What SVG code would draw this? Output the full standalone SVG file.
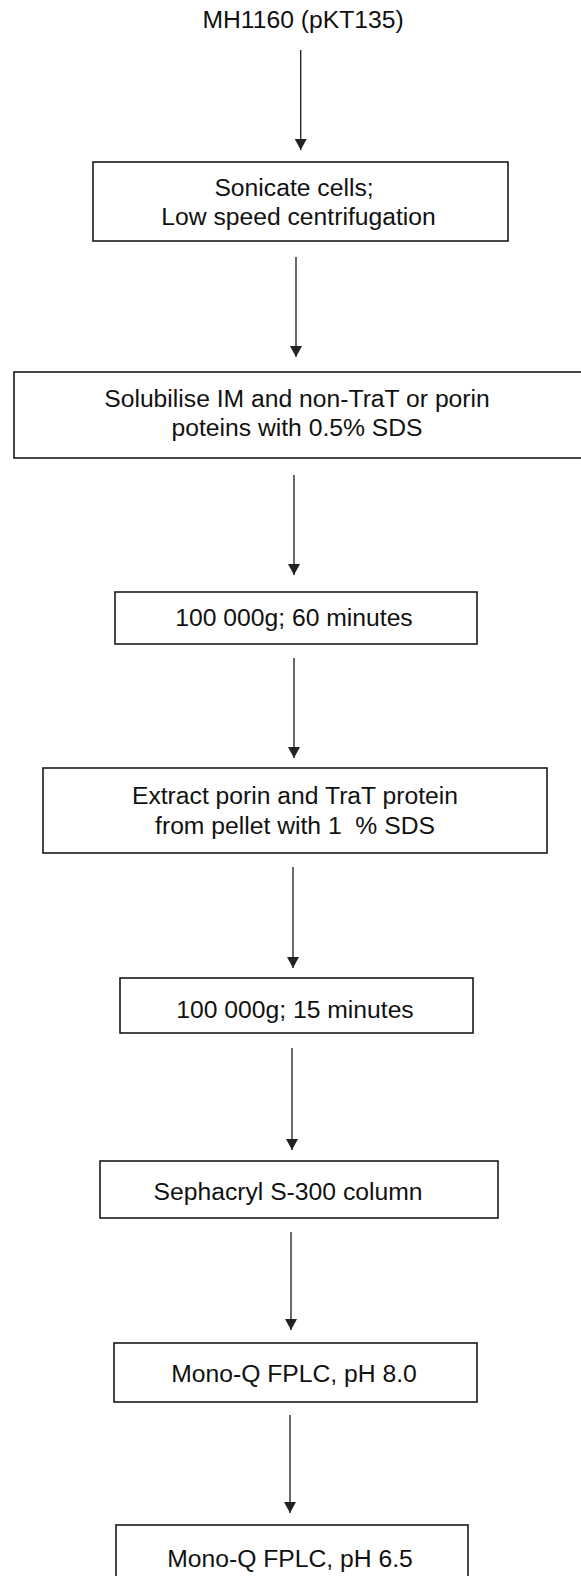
<svg xmlns="http://www.w3.org/2000/svg" width="581" height="1576" viewBox="0 0 581 1576">
<style>
.box{fill:#fff;stroke:#1a1a1a;stroke-width:1.6}
.t{font-family:"Liberation Sans",Arial,Helvetica,sans-serif;font-size:24.7px;fill:#111;text-anchor:middle}
.c{stroke:#1a1a1a;stroke-width:1.3;fill:none}
</style>
<defs>
<marker id="ah" viewBox="0 0 12 11" refX="6" refY="11" markerWidth="12" markerHeight="11" markerUnits="userSpaceOnUse" orient="0">
<path d="M0,0 L12,0 L6,11 Z" fill="#222"/>
</marker>
</defs>
<rect width="581" height="1576" fill="#fff"/>
<g id="connectors">
<line class="c" x1="300.7" y1="50" x2="300.7" y2="150" marker-end="url(#ah)"/>
<line class="c" x1="296" y1="257" x2="296" y2="357" marker-end="url(#ah)"/>
<line class="c" x1="294" y1="475" x2="294" y2="575" marker-end="url(#ah)"/>
<line class="c" x1="294" y1="658" x2="294" y2="758" marker-end="url(#ah)"/>
<line class="c" x1="293" y1="867" x2="293" y2="968" marker-end="url(#ah)"/>
<line class="c" x1="292" y1="1048" x2="292" y2="1150" marker-end="url(#ah)"/>
<line class="c" x1="291" y1="1232" x2="291" y2="1330" marker-end="url(#ah)"/>
<line class="c" x1="290" y1="1415" x2="290" y2="1513" marker-end="url(#ah)"/>
</g>
<g id="start">
<text class="t" x="303" y="28">MH1160 (pKT135)</text>
</g>
<g id="n1">
<rect class="box" x="93" y="162" width="415" height="79"/>
<text class="t" x="294" y="196">Sonicate cells;</text>
<text class="t" x="298.5" y="225">Low speed centrifugation</text>
</g>
<g id="n2">
<rect class="box" x="14" y="372" width="600" height="86"/>
<text class="t" x="297" y="407">Solubilise IM and non-TraT or porin</text>
<text class="t" x="297" y="436">poteins with 0.5% SDS</text>
</g>
<g id="n3">
<rect class="box" x="115" y="592" width="362" height="52"/>
<text class="t" x="294" y="626">100 000g; 60 minutes</text>
</g>
<g id="n4">
<rect class="box" x="43" y="768" width="504" height="85"/>
<text class="t" x="295" y="804">Extract porin and TraT protein</text>
<text class="t" x="295" y="834" xml:space="preserve">from pellet with 1  % SDS</text>
</g>
<g id="n5">
<rect class="box" x="120" y="978" width="353" height="55"/>
<text class="t" x="295" y="1018">100 000g; 15 minutes</text>
</g>
<g id="n6">
<rect class="box" x="100" y="1161" width="398" height="57"/>
<text class="t" x="288" y="1200">Sephacryl S-300 column</text>
</g>
<g id="n7">
<rect class="box" x="114" y="1343" width="363" height="59"/>
<text class="t" x="294" y="1382">Mono-Q FPLC, pH 8.0</text>
</g>
<g id="n8">
<rect class="box" x="116" y="1525" width="352" height="70"/>
<text class="t" x="290" y="1567">Mono-Q FPLC, pH 6.5</text>
</g>
</svg>
